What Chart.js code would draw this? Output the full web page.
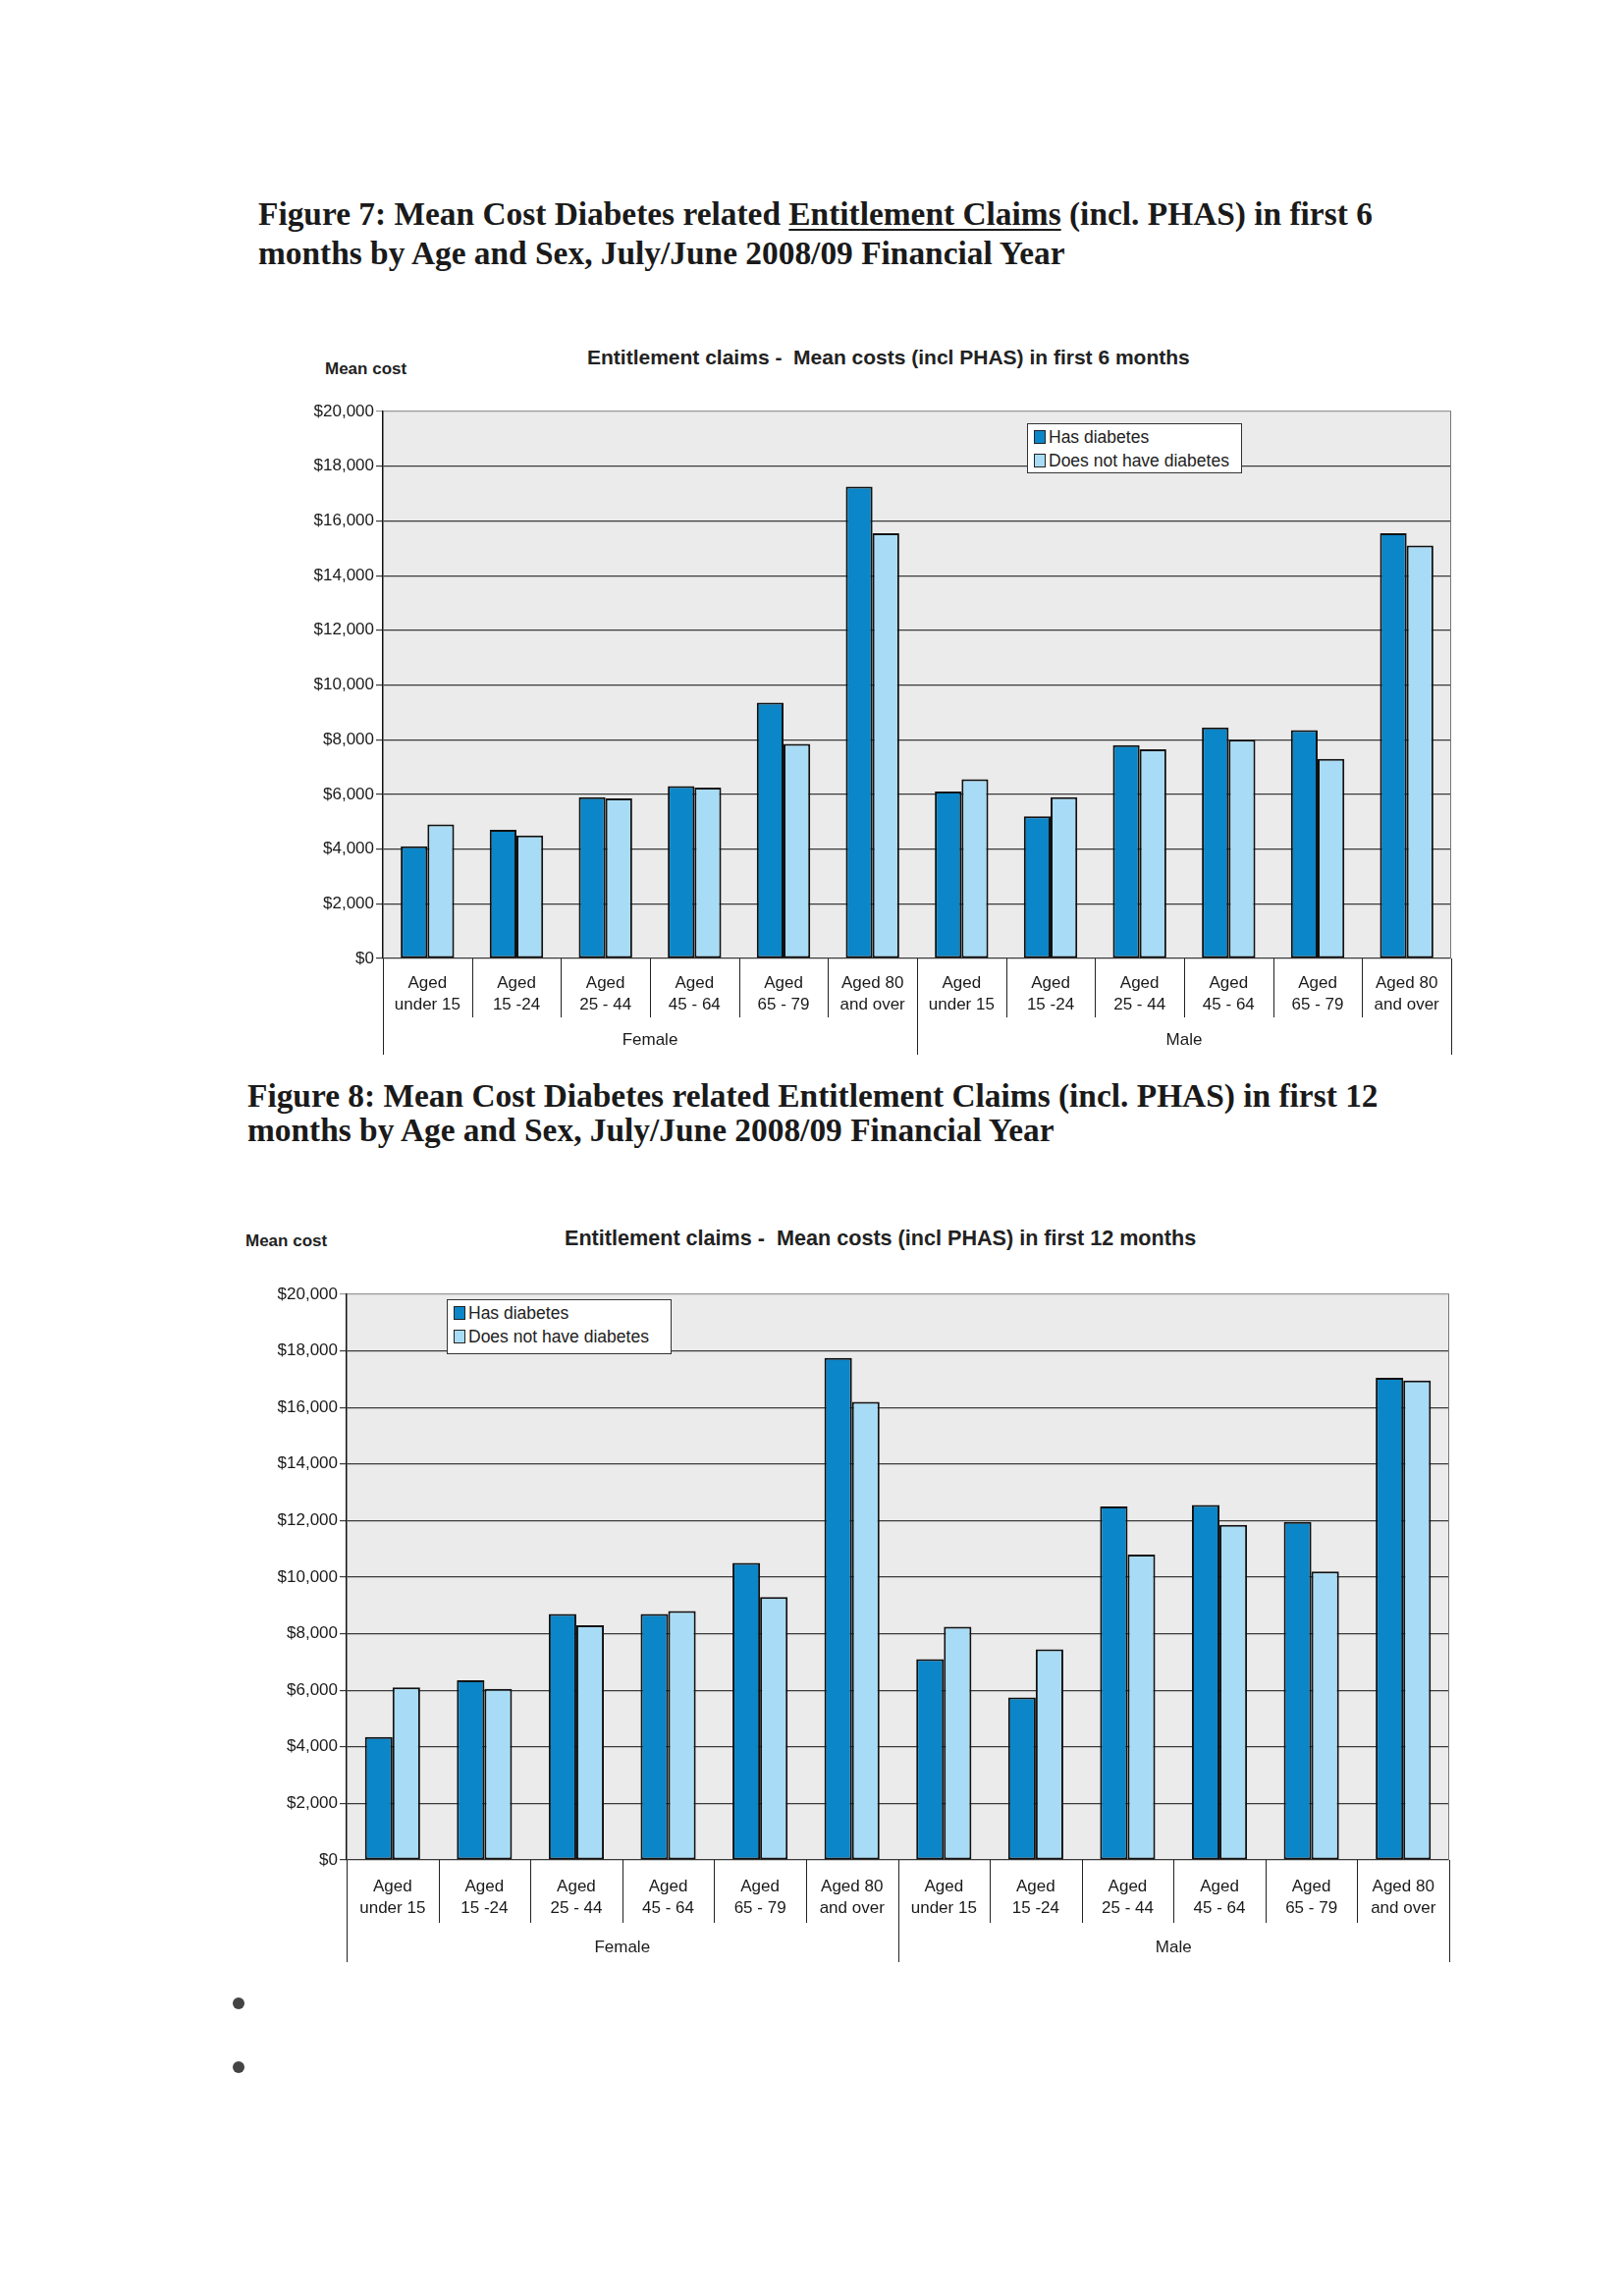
<!DOCTYPE html>
<html>
<head>
<meta charset="utf-8">
<script src="https://cdn.jsdelivr.net/npm/chart.js@4.4.1/dist/chart.umd.min.js"></script>
<style>
  html, body { margin: 0; padding: 0; background: #fff; }
  #page { position: relative; width: 1653px; height: 2338px; overflow: hidden; background: #fff; }
  .fig { position: absolute; font-family: 'Liberation Serif', 'Times New Roman', serif; font-weight: bold; font-size: 33.4px; color: #1a1a1a; white-space: nowrap; }
  .fig u { text-decoration-thickness: 2px; text-underline-offset: 4px; }
  .ylab { position: absolute; font-family: 'Liberation Sans', Arial, sans-serif; font-weight: bold; font-size: 17px; color: #222; }
  .ctitle { position: absolute; font-family: 'Liberation Sans', Arial, sans-serif; font-weight: bold; font-size: 21px; color: #222; white-space: nowrap; }
  canvas { position: absolute; }
  .legend { position: absolute; background: #fff; border: 1.5px solid #333; font-family: 'Liberation Sans', Arial, sans-serif; font-size: 17.5px; color: #222; padding: 1px 4px 0 6px; box-sizing: border-box; }
  .legend .item { display: flex; align-items: center; height: 24px; white-space: nowrap; }
  .legend .sw { width: 10px; height: 12px; border: 1.5px solid #222; margin-right: 3px; flex: none; }
  .bullet { position: absolute; width: 12px; height: 12px; border-radius: 50%; background: #444; }
</style>
</head>
<body>
<div id="page">
  <div class="fig" style="left:263px; top:198px; line-height:40px;">Figure 7: Mean Cost Diabetes related <u>Entitlement Claims</u> (incl. PHAS) in first 6<br>months by Age and Sex, July/June 2008/09 Financial Year</div>
  <div class="ylab" style="left:331px; top:366px;">Mean cost</div>
  <div class="ctitle" style="left:598px; top:352px;">Entitlement claims -&nbsp; Mean costs (incl PHAS) in first&nbsp;6 months</div>
  <canvas id="chart6" width="1210" height="690" style="left:290px; top:400px;"></canvas>
  <div class="legend" id="legend6" style="left:1046px; top:431px; width:219px; height:51px;"></div>

  <div class="fig" style="left:252px; top:1098px; line-height:35px;">Figure 8: Mean Cost Diabetes related Entitlement Claims (incl. PHAS) in first 12<br>months by Age and Sex, July/June 2008/09 Financial Year</div>
  <div class="ylab" style="left:250px; top:1254px;">Mean cost</div>
  <div class="ctitle" style="left:575px; top:1248px; font-size:21.6px;">Entitlement claims -&nbsp; Mean costs (incl PHAS) in first 12 months</div>
  <canvas id="chart12" width="1253" height="712" style="left:253px; top:1298px;"></canvas>
  <div class="legend" id="legend12" style="left:455px; top:1323px; width:229px; height:56px;"></div>

  <div class="bullet" style="left:237px; top:2034px;"></div>
  <div class="bullet" style="left:237px; top:2099px;"></div>
</div>
<script>
// categories: age bands, repeated for Female then Male
const categories = [
    ['Aged', 'under 15'], ['Aged', '15 -24'], ['Aged', '25 - 44'], ['Aged', '45 - 64'], ['Aged', '65 - 79'], ['Aged 80', 'and over'],
    ['Aged', 'under 15'], ['Aged', '15 -24'], ['Aged', '25 - 44'], ['Aged', '45 - 64'], ['Aged', '65 - 79'], ['Aged 80', 'and over']
];
const groups = ['Female', 'Male'];
const seriesNames = ['Has diabetes', 'Does not have diabetes'];
const seriesColors = ['#0b86c8', '#a8dcf6'];

// mean cost in first 6 months
const has6 = [4100, 4700, 5900, 6300, 9350, 17250, 6100, 5200, 7800, 8450, 8350, 15550];
const not6 = [4900, 4500, 5850, 6250, 7850, 15550, 6550, 5900, 7650, 8000, 7300, 15100];

// mean cost in first 12 months
const has12 = [4350, 6350, 8700, 8700, 10500, 17750, 7100, 5750, 12500, 12550, 11950, 17050];
const not12 = [6100, 6050, 8300, 8800, 9300, 16200, 8250, 7450, 10800, 11850, 10200, 16950];

const yMin = 0, yMax = 20000, yStep = 2000;

const font = "'Liberation Sans', Arial, sans-serif";

// grey plot background, plot border and the category / group separators
const frame = {
    id: 'frame',
    beforeDraw(chart) {
        const { ctx, chartArea: a } = chart;
        ctx.save();
        ctx.fillStyle = '#ebebeb';
        ctx.fillRect(a.left, a.top, a.right - a.left, a.bottom - a.top);
        ctx.restore();
    },
    afterDraw(chart) {
        const { ctx, chartArea: a, scales: { x } } = chart;
        ctx.save();
        ctx.strokeStyle = '#777';
        ctx.lineWidth = 1;
        ctx.beginPath();
        ctx.moveTo(Math.round(a.right) - 0.5, a.top);
        ctx.lineTo(Math.round(a.right) - 0.5, a.bottom);
        ctx.stroke();

        ctx.strokeStyle = '#222';
        const n = categories.length;
        for (let i = 0; i <= n; i++) {
            let px;
            if (i === 0) px = x.left;
            else if (i === n) px = x.right;
            else px = (x.getPixelForValue(i - 1) + x.getPixelForValue(i)) / 2;
            const len = i % 6 === 0 ? chart.options.sepLong : chart.options.sepShort;
            ctx.beginPath();
            ctx.moveTo(Math.round(px) + 0.5, a.bottom);
            ctx.lineTo(Math.round(px) + 0.5, a.bottom + len);
            ctx.stroke();
        }
        ctx.restore();
    }
};

function makeChart(id, hasData, notData, dims) {
    const ctx = document.getElementById(id).getContext('2d');
    return new Chart(ctx, {
        type: 'bar',
        data: {
            labels: categories,
            datasets: [
                { label: seriesNames[0], data: hasData, backgroundColor: seriesColors[0] },
                { label: seriesNames[1], data: notData, backgroundColor: seriesColors[1] }
            ]
        },
        options: {
            responsive: false,
            animation: false,
            devicePixelRatio: 1,
            sepShort: dims.sepShort,
            sepLong: dims.sepLong,
            layout: { padding: { top: dims.padTop, right: dims.padRight, bottom: dims.padBottom, left: 0 } },
            datasets: {
                bar: {
                    categoryPercentage: 0.6,
                    barPercentage: 1.0,
                    borderColor: '#111',
                    borderWidth: 2,
                    borderSkipped: false
                }
            },
            plugins: {
                legend: { display: false },
                tooltip: { enabled: false }
            },
            scales: {
                y: {
                    min: yMin,
                    max: yMax,
                    ticks: {
                        stepSize: yStep,
                        padding: 2,
                        color: '#1a1a1a',
                        font: { family: font, size: 17 },
                        callback: v => '$' + v.toLocaleString('en-US')
                    },
                    grid: {
                        color: c => c.tick && c.tick.value === yMax ? '#999' : '#3a3a3a',
                        lineWidth: 1.2,
                        tickLength: 7
                    },
                    border: { display: true, color: '#111', width: 1.5 },
                    afterFit: s => { s.width = dims.yWidth; }
                },
                x: {
                    grid: { display: false, drawTicks: false },
                    border: { display: false },
                    ticks: {
                        autoSkip: false,
                        maxRotation: 0,
                        padding: dims.xPad,
                        color: '#1a1a1a',
                        font: { family: font, size: 17, lineHeight: 1.3 }
                    },
                    afterFit: s => { s.height = dims.xHeight; }
                },
                x2: {
                    type: 'category',
                    labels: groups,
                    position: 'bottom',
                    offset: true,
                    weight: 1,
                    grid: { display: false, drawTicks: false },
                    border: { display: false },
                    ticks: {
                        padding: dims.x2Pad,
                        color: '#1a1a1a',
                        font: { family: font, size: 17 }
                    },
                    afterFit: s => { s.height = dims.x2Height; }
                }
            }
        },
        plugins: [frame]
    });
}

function makeLegend(id) {
    const box = document.getElementById(id);
    seriesNames.forEach((name, i) => {
        const row = document.createElement('div');
        row.className = 'item';
        const sw = document.createElement('span');
        sw.className = 'sw';
        sw.style.background = seriesColors[i];
        row.appendChild(sw);
        row.appendChild(document.createTextNode(name));
        box.appendChild(row);
    });
}

makeChart('chart6', has6, not6, {
    padTop: 19, padRight: 22, padBottom: 12,
    yWidth: 100, xHeight: 64, x2Height: 38,
    xPad: 14, x2Pad: 9, sepShort: 60, sepLong: 98
});
makeChart('chart12', has12, not12, {
    padTop: 20, padRight: 30, padBottom: 10,
    yWidth: 100, xHeight: 68, x2Height: 38,
    xPad: 16, x2Pad: 11, sepShort: 64, sepLong: 104
});
makeLegend('legend6');
makeLegend('legend12');
</script>
</body>
</html>
